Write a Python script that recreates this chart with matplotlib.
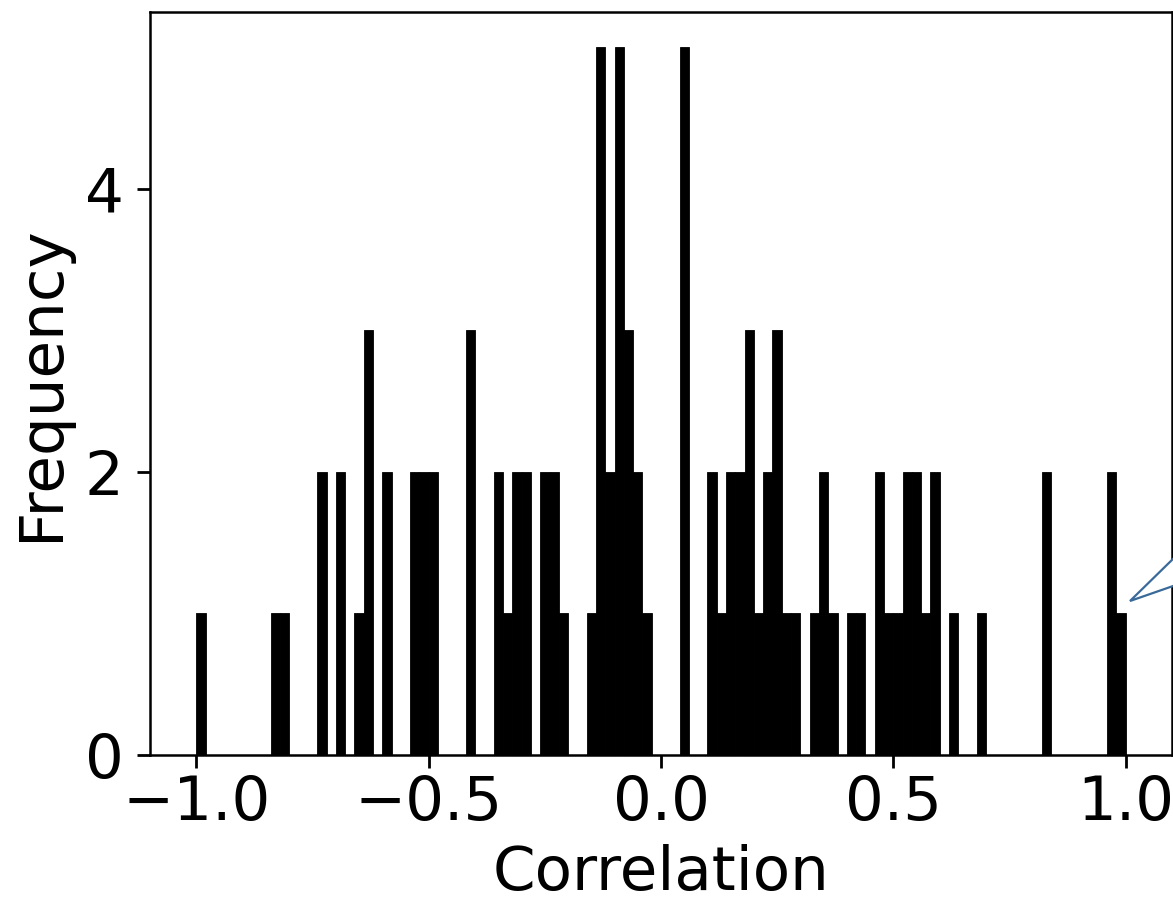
import numpy as np
import matplotlib
matplotlib.use("Agg")
import matplotlib.pyplot as plt
from matplotlib.patches import Polygon

# Histogram of correlations: 100 bins over [-1, 1]
bin_edges = np.linspace(-1.0, 1.0, 101)
counts = [
    1, 0, 0, 0, 0, 0, 0, 0, 1, 1,      # 0-9
    0, 0, 0, 2, 0, 2, 0, 1, 3, 0,      # 10-19
    2, 0, 0, 2, 2, 2, 0, 0, 0, 3,      # 20-29
    0, 0, 2, 1, 2, 2, 0, 2, 2, 1,      # 30-39
    0, 0, 1, 5, 2, 5, 3, 2, 1, 0,      # 40-49
    0, 0, 5, 0, 0, 2, 1, 2, 2, 3,      # 50-59
    1, 2, 3, 1, 1, 0, 1, 2, 1, 0,      # 60-69
    1, 1, 0, 2, 1, 1, 2, 2, 1, 2,      # 70-79
    0, 1, 0, 0, 1, 0, 0, 0, 0, 0,      # 80-89
    0, 2, 0, 0, 0, 0, 0, 0, 2, 1,      # 90-99
]
x_ticks = [-1.0, -0.5, 0.0, 0.5, 1.0]
y_ticks = [0, 2, 4]
x_label = "Correlation"
y_label = "Frequency"

W, H = 1173, 902
fig = plt.figure(figsize=(W / 100, H / 100), dpi=100)
ax = fig.add_axes([150 / W, 1 - 755 / H, (1172 - 150) / W, (755 - 12) / H])

centers = (bin_edges[:-1] + bin_edges[1:]) / 2
ax.hist(centers, bins=bin_edges, weights=counts, color="black",
        edgecolor="black", linewidth=0.6)

ax.set_xlim(-1.1, 1.1)
ax.set_ylim(0, 5.25)
ax.set_xticks(x_ticks)
ax.set_yticks(y_ticks)
ax.tick_params(labelsize=44, length=9.5, width=2.0, pad=9.5)
ax.tick_params(axis="x", pad=4)
for s in ax.spines.values():
    s.set_linewidth(1.8)
ax.set_xlabel(x_label, fontsize=44, labelpad=8)
ax.set_ylabel(y_label, fontsize=44, labelpad=10)

# callout pointer at the right edge
pts = [(1130 / W, 1 - 601 / H), (1176 / W, 1 - 556 / H), (1176 / W, 1 - 585 / H)]
fig.patches.append(Polygon(pts, closed=True, transform=fig.transFigure,
                           facecolor="white", edgecolor="#3A6A9A",
                           linewidth=1.6, zorder=10))

fig.savefig("out.png", dpi=100)
